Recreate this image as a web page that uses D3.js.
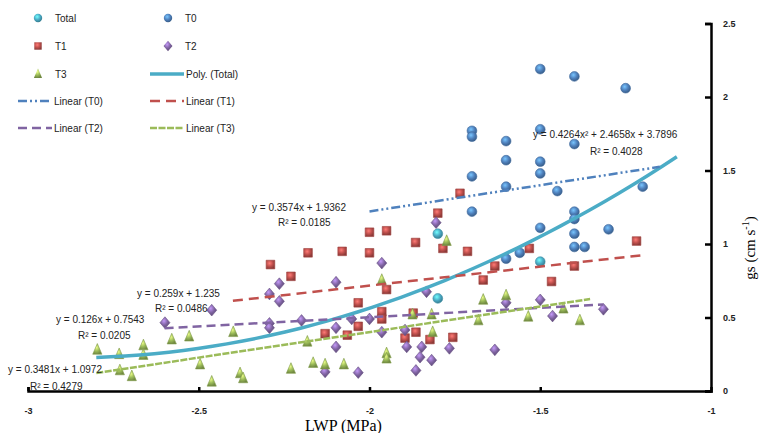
<!DOCTYPE html>
<html>
<head>
<meta charset="utf-8">
<script src="https://cdn.jsdelivr.net/npm/d3@7"></script>
<style>
body { margin: 0; background: #fff; }
svg { display: block; }
text { font-family: Arial, "Liberation Sans", sans-serif; }
</style>
</head>
<body>
<svg id="chart" width="759" height="433"></svg>
<script>
// series values (LWP in MPa, gs in cm s-1)
var totalX = [-1.80, -1.80, -1.50];
var totalY = [1.07, 0.63, 0.88];

var t0X = [-1.50, -1.40, -1.25, -1.70, -1.70, -1.60, -1.50, -1.40, -1.60, -1.50, -1.50, -1.70, -1.60, -1.45, -1.20, -1.70, -1.40, -1.40, -1.50, -1.40, -1.30, -1.40, -1.37, -1.56, -1.60];
var t0Y = [2.19, 2.14, 2.06, 1.77, 1.73, 1.70, 1.78, 1.68, 1.57, 1.56, 1.48, 1.46, 1.39, 1.36, 1.39, 1.22, 1.22, 1.17, 1.11, 1.07, 1.10, 0.98, 0.98, 0.94, 0.90];

var t1X = [-1.735, -1.80, -2.00, -1.95, -1.865, -1.785, -1.713, -2.18, -2.08, -2.00, -2.29, -2.23, -1.633, -1.532, -1.667, -1.467, -1.40, -1.218, -1.95, -2.033, -1.964, -1.964, -1.872, -2.033, -2.13, -2.065, -1.864, -1.896, -1.823, -1.756];
var t1Y = [1.345, 1.21, 1.08, 1.09, 1.01, 0.97, 0.95, 0.94, 0.95, 0.94, 0.86, 0.78, 0.85, 0.97, 0.755, 0.745, 0.85, 1.02, 0.69, 0.60, 0.54, 0.49, 0.53, 0.44, 0.39, 0.38, 0.40, 0.36, 0.35, 0.365];

var t2X = [-1.805, -1.964, -2.264, -2.098, -2.293, -2.264, -1.833, -2.052, -2.00, -2.199, -2.293, -2.293, -2.098, -1.964, -1.896, -1.891, -1.847, -1.852, -1.818, -1.766, -2.098, -1.864, -2.033, -2.13, -2.462, -2.599, -1.50, -1.464, -1.315, -1.633, -1.60];
var t2Y = [1.145, 0.87, 0.73, 0.74, 0.66, 0.61, 0.675, 0.49, 0.49, 0.48, 0.46, 0.43, 0.43, 0.40, 0.415, 0.30, 0.30, 0.23, 0.21, 0.29, 0.30, 0.14, 0.125, 0.13, 0.55, 0.465, 0.62, 0.51, 0.556, 0.28, 0.60];

var t3X = [-1.774, -1.964, -1.818, -1.874, -1.815, -1.95, -1.95, -2.182, -2.399, -2.165, -2.13, -2.075, -2.23, -2.379, -2.37, -2.797, -2.733, -2.662, -2.662, -2.579, -2.528, -2.496, -2.462, -2.731, -2.696, -1.60, -1.667, -1.681, -1.535, -1.432, -1.384];
var t3Y = [1.02, 0.755, 0.52, 0.52, 0.40, 0.256, 0.22, 0.335, 0.40, 0.19, 0.18, 0.18, 0.15, 0.12, 0.086, 0.28, 0.25, 0.31, 0.245, 0.35, 0.37, 0.18, 0.063, 0.14, 0.10, 0.65, 0.62, 0.48, 0.505, 0.56, 0.48];

// trendline coefficients and x ranges
var polyCoef = [0.4264, 2.4658, 3.7896];
var polyRange = [-2.8, -1.1];
var linCoef = [[0.3574, 1.9362], [0.259, 1.235], [0.126, 0.7543], [0.3481, 1.0972]];
var linRange = [[-2.0, -1.15], [-2.4, -1.2], [-2.6, -1.316], [-2.8, -1.354]];

var xTicks = [-3, -2.5, -2, -1.5, -1];
var yTicks = [0, 0.5, 1, 1.5, 2, 2.5];

var colors = { total: "#4bacc6", t0: "#4f81bd", t1: "#c0504d", t2: "#8064a2", t3: "#9bbb59" };

var svg = d3.select("#chart");
var x = d3.scaleLinear().domain([-3, -1]).range([28, 711]);
var y = d3.scaleLinear().domain([0, 2.5]).range([391, 23.5]);

// glossy marker gradients
var defs = svg.append("defs");
Object.keys(colors).forEach(function(k) {
    var c = d3.color(colors[k]);
    var g = defs.append("radialGradient").attr("id", "g_" + k)
        .attr("cx", "40%").attr("cy", "35%").attr("r", "65%");
    g.append("stop").attr("offset", "0%").attr("stop-color", c.brighter(1.2));
    g.append("stop").attr("offset", "55%").attr("stop-color", c);
    g.append("stop").attr("offset", "100%").attr("stop-color", c.darker(0.9));
});

var triangleTall = {
    draw: function(ctx, size) {
        var w = Math.sqrt(size) * 0.55, h = Math.sqrt(size) * 0.75;
        ctx.moveTo(0, -h);
        ctx.lineTo(w, h * 0.7);
        ctx.lineTo(-w, h * 0.7);
        ctx.closePath();
    }
};
var diamondWide = {
    draw: function(ctx, size) {
        var w = Math.sqrt(size) * 0.6, h = Math.sqrt(size) * 0.7;
        ctx.moveTo(0, -h);
        ctx.lineTo(w, 0);
        ctx.lineTo(0, h);
        ctx.lineTo(-w, 0);
        ctx.closePath();
    }
};

function drawPoints(xs, ys, key, sym, size) {
    var pts = xs.map(function(v, i) { return [v, ys[i]]; });
    var gen = d3.symbol().type(sym).size(size);
    svg.append("g").selectAll("path").data(pts).enter().append("path")
        .attr("d", gen)
        .attr("transform", function(d) { return "translate(" + x(d[0]) + "," + y(d[1]) + ")"; })
        .attr("fill", "url(#g_" + key + ")")
        .attr("stroke", d3.color(colors[key]).darker(0.5))
        .attr("stroke-width", 0.6);
}

drawPoints(totalX, totalY, "total", d3.symbolCircle, 75);
drawPoints(t0X, t0Y, "t0", d3.symbolCircle, 75);
drawPoints(t1X, t1Y, "t1", d3.symbolSquare, 75);
drawPoints(t2X, t2Y, "t2", diamondWide, 70);
drawPoints(t3X, t3Y, "t3", triangleTall, 70);

// trendlines
var line = d3.line().x(function(d) { return x(d[0]); }).y(function(d) { return y(d[1]); });
var polyPts = d3.range(0, 41).map(function(i) {
    var v = polyRange[0] + (polyRange[1] - polyRange[0]) * i / 40;
    return [v, polyCoef[0] * v * v + polyCoef[1] * v + polyCoef[2]];
});
svg.append("path").attr("d", line(polyPts)).attr("fill", "none")
    .attr("stroke", colors.total).attr("stroke-width", 3.5);

var linStyles = [
    { key: "t0", dash: "9,3,2,3,2,3", w: 2.5 },
    { key: "t1", dash: "10,6", w: 2.5 },
    { key: "t2", dash: "9,5", w: 2.5 },
    { key: "t3", dash: "7,1.5", w: 2.5 }
];
linCoef.forEach(function(c, i) {
    var r = linRange[i];
    var pts = r.map(function(v) { return [v, c[0] * v + c[1]]; });
    svg.append("path").attr("d", line(pts)).attr("fill", "none")
        .attr("stroke", colors[linStyles[i].key])
        .attr("stroke-width", linStyles[i].w)
        .attr("stroke-dasharray", linStyles[i].dash);
});

// axes
var xAxis = d3.axisBottom(x).tickValues(xTicks).tickSize(-4).tickFormat(function(d) { return d; });
var gx = svg.append("g").attr("transform", "translate(0," + y(0) + ")").call(xAxis);
gx.select(".domain").attr("stroke", "#000").attr("stroke-width", 2.5);
gx.selectAll(".tick line").attr("stroke", "#000").attr("stroke-width", 2.5);
gx.selectAll(".tick text").attr("y", 17).attr("font-size", 9).attr("font-weight", "bold").attr("fill", "#222");
gx.selectAll(".tick").filter(function(d) { return d === -1; }).select("line").remove();

var yAxis = d3.axisRight(y).tickValues(yTicks).tickSize(-6).tickFormat(function(d) { return d; });
var gy = svg.append("g").attr("transform", "translate(" + x(-1) + ",0)").call(yAxis);
gy.select(".domain").attr("stroke", "#000").attr("stroke-width", 2.5);
gy.selectAll(".tick line").attr("stroke", "#000").attr("stroke-width", 2.5);
gy.selectAll(".tick text").attr("x", 12).attr("font-size", 9).attr("font-weight", "bold").attr("fill", "#222");

// axis titles
svg.append("text").attr("x", 305).attr("y", 431)
    .style("font-family", "'Liberation Serif', 'Times New Roman', serif")
    .attr("font-size", 16).text("LWP (MPa)");
var yt = svg.append("text").attr("transform", "translate(755,248) rotate(-90)")
    .attr("text-anchor", "middle")
    .style("font-family", "'Liberation Serif', 'Times New Roman', serif")
    .attr("font-size", 15);
yt.append("tspan").text("gs (cm s");
yt.append("tspan").attr("dy", -6).attr("font-size", 10).text("-1");
yt.append("tspan").attr("dy", 6).text(")");

// trendline equations
var eqs = [
    ["y = 0.4264x\u00b2 + 2.4658x + 3.7896", 533, 138],
    ["R\u00b2 = 0.4028", 590, 155],
    ["y = 0.3574x + 1.9362", 252, 211],
    ["R\u00b2 = 0.0185", 278, 226],
    ["y = 0.259x + 1.235", 137, 297],
    ["R\u00b2 = 0.0486", 155, 312],
    ["y = 0.126x + 0.7543", 56, 323],
    ["R\u00b2 = 0.0205", 78, 339],
    ["y = 0.3481x + 1.0972", 8, 373],
    ["R\u00b2 = 0.4279", 30, 390]
];
svg.append("g").selectAll("text").data(eqs).enter().append("text")
    .attr("x", function(d) { return d[1]; }).attr("y", function(d) { return d[2]; })
    .attr("font-size", 10).attr("fill", "#222").text(function(d) { return d[0]; });

// legend
var legendItems = [
    { label: "Total", key: "total", sym: d3.symbolCircle, col: 0, row: 0 },
    { label: "T0", key: "t0", sym: d3.symbolCircle, col: 1, row: 0 },
    { label: "T1", key: "t1", sym: d3.symbolSquare, col: 0, row: 1 },
    { label: "T2", key: "t2", sym: diamondWide, col: 1, row: 1 },
    { label: "T3", key: "t3", sym: triangleTall, col: 0, row: 2 },
    { label: "Poly. (Total)", key: "total", line: "none", w: 3.5, col: 1, row: 2 },
    { label: "Linear (T0)", key: "t0", line: linStyles[0].dash, w: 2.5, col: 0, row: 3 },
    { label: "Linear (T1)", key: "t1", line: linStyles[1].dash, w: 2.5, col: 1, row: 3 },
    { label: "Linear (T2)", key: "t2", line: linStyles[2].dash, w: 2.5, col: 0, row: 4 },
    { label: "Linear (T3)", key: "t3", line: linStyles[3].dash, w: 2.5, col: 1, row: 4 }
];
var rowY = [18, 46, 74, 101, 128];
var colX = [38, 168];
legendItems.forEach(function(it) {
    var cy = rowY[it.row];
    var g = svg.append("g");
    if (it.line) {
        var x0 = it.col === 0 ? 18 : 150;
        g.append("line").attr("x1", x0).attr("x2", x0 + 34).attr("y1", cy).attr("y2", cy)
            .attr("stroke", colors[it.key]).attr("stroke-width", it.w)
            .attr("stroke-dasharray", it.line === "none" ? null : it.line);
        g.append("text").attr("x", x0 + 36).attr("y", cy + 4).attr("font-size", 10).attr("fill", "#222").text(it.label);
    } else {
        g.append("path").attr("d", d3.symbol().type(it.sym).size(55))
            .attr("transform", "translate(" + colX[it.col] + "," + cy + ")")
            .attr("fill", "url(#g_" + it.key + ")");
        g.append("text").attr("x", colX[it.col] + 17).attr("y", cy + 4).attr("font-size", 10).attr("fill", "#222").text(it.label);
    }
});
</script>
</body>
</html>
